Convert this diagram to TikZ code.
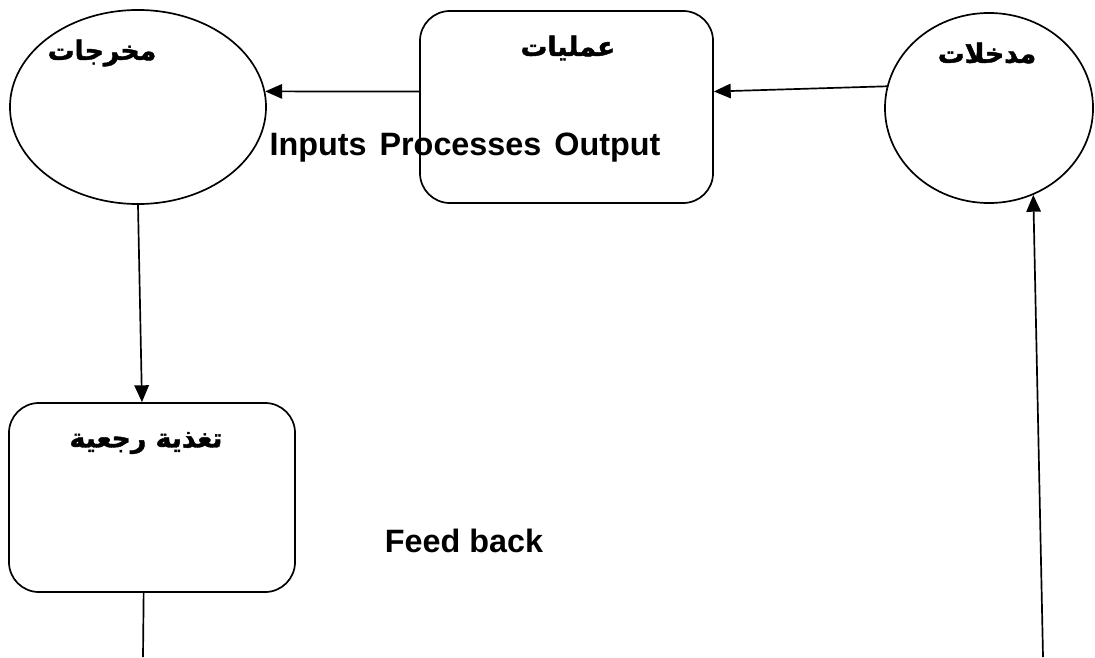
\documentclass[tikz,border=0pt]{standalone}
\usepackage{fontspec}
\setmainfont{Liberation Sans}
\newfontfamily\arabicfont[Script=Arabic, FakeBold=1.6]{DejaVu Sans}
\TeXXeTstate=1
\usetikzlibrary{arrows.meta, positioning, shapes.geometric}

\tikzset{
  blob/.style={draw, line width=1.2pt, ellipse, inner sep=0pt},
  pbox/.style={draw, line width=1.2pt, rectangle, rounded corners=0.75cm, inner sep=0pt},
  arlabel/.style={font=\arabicfont\bfseries\fontsize{19}{23}\selectfont},
  enlabel/.style={font=\bfseries\fontsize{23}{26}\selectfont},
  flow/.style={line width=1.2pt, -{Triangle[length=0.42cm, width=0.36cm]}}
}

\begin{document}
\begin{tikzpicture}[x=0.025cm, y=-0.025cm]
\useasboundingbox (0,0) rectangle (1095,657);
%outputs ellipse on the left
\node[blob, minimum width=6.4cm, minimum height=4.85cm] (outp) at (138,107) {};
\node[arlabel] (outptext) at (102,53) {\beginR مخرجات\endR};
%processes box in the middle
\node[pbox, minimum width=7.325cm, minimum height=4.8cm] (proc) at (566.5,107) {};
\node[arlabel] (proctext) at (568,48) {\beginR عمليات\endR};
%inputs circle on the right
\node[blob, minimum width=5.2cm, minimum height=4.75cm] (inp) at (989,108) {};
\node[arlabel] (inptext) at (987,53) {\beginR مدخلات\endR};
%feedback box at the bottom left
\node[pbox, minimum width=7.15cm, minimum height=4.725cm] (feed) at (152,497.5) {};
\node[arlabel] (feedtext) at (146,443) {\beginR تغذية رجعية\endR};
%english captions
\node[enlabel] (iponame) at (465,148) {Inputs\hspace{0.4em}Processes\hspace{0.4em}Output};
\node[enlabel] (fbname) at (464,541) {Feed back};
%loose ends at the bottom edge
\coordinate (fbend) at (143,657);
\coordinate (inpstart) at (1043,657);
%arrows
\draw[flow] (inp.168) -- (proc.6);
\draw[flow] (proc.174) -- (outp.7);
\draw[flow] (outp.south) -- (feed.96);
\draw[line width=1.2pt] (feed.265) -- (fbend);
\draw[flow] (inpstart) -- (inp.297);
\end{tikzpicture}
\end{document}
